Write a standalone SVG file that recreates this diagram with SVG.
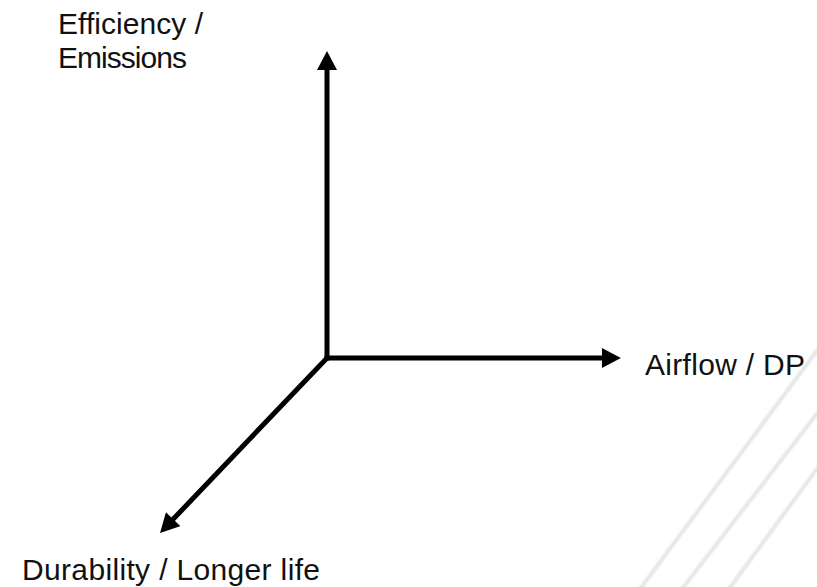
<svg xmlns="http://www.w3.org/2000/svg" width="817" height="587" viewBox="0 0 817 587">
  <style>
    .lbl { font-family: "Liberation Sans", Arial, sans-serif; font-size: 30px; fill: #111111; }
    .axis { stroke: #000000; stroke-width: 5; fill: none; stroke-linecap: square; }
    .bg { stroke: #e3e3e3; stroke-width: 3.5; fill: none; stroke-linecap: round; }
  </style>
  <defs>
    <marker id="arrow" markerUnits="userSpaceOnUse" markerWidth="20" markerHeight="20" viewBox="0 0 18 19" refX="1" refY="9.5" orient="auto">
      <path d="M0,0 L18,9.5 L0,19 Z" fill="#000000"/>
    </marker>
    <filter id="soft" x="-5%" y="-5%" width="110%" height="110%">
      <feGaussianBlur stdDeviation="0.8"/>
    </filter>
  </defs>
  <rect x="0" y="0" width="817" height="587" fill="#ffffff"/>
  <g id="background" filter="url(#soft)">
    <line class="bg" x1="640" y1="589" x2="819" y2="348"/>
    <line class="bg" x1="682" y1="589" x2="819" y2="411"/>
    <line class="bg" x1="729" y1="589" x2="819" y2="466"/>
  </g>
  <g id="connectors">
    <line class="axis" x1="327" y1="358" x2="327" y2="69" marker-end="url(#arrow)"/>
    <line class="axis" x1="327" y1="358" x2="603" y2="358" marker-end="url(#arrow)"/>
    <line class="axis" x1="327" y1="358" x2="172.4" y2="520" marker-end="url(#arrow)" stroke-linecap="butt"/>
  </g>
  <g id="node-efficiency">
    <text class="lbl" x="58" y="34" textLength="145">Efficiency /</text>
    <text class="lbl" x="58" y="68" textLength="129">Emissions</text>
  </g>
  <g id="node-airflow">
    <text class="lbl" x="645" y="375" textLength="160">Airflow / DP</text>
  </g>
  <g id="node-durability">
    <text class="lbl" x="22" y="580" textLength="298">Durability / Longer life</text>
  </g>
</svg>
